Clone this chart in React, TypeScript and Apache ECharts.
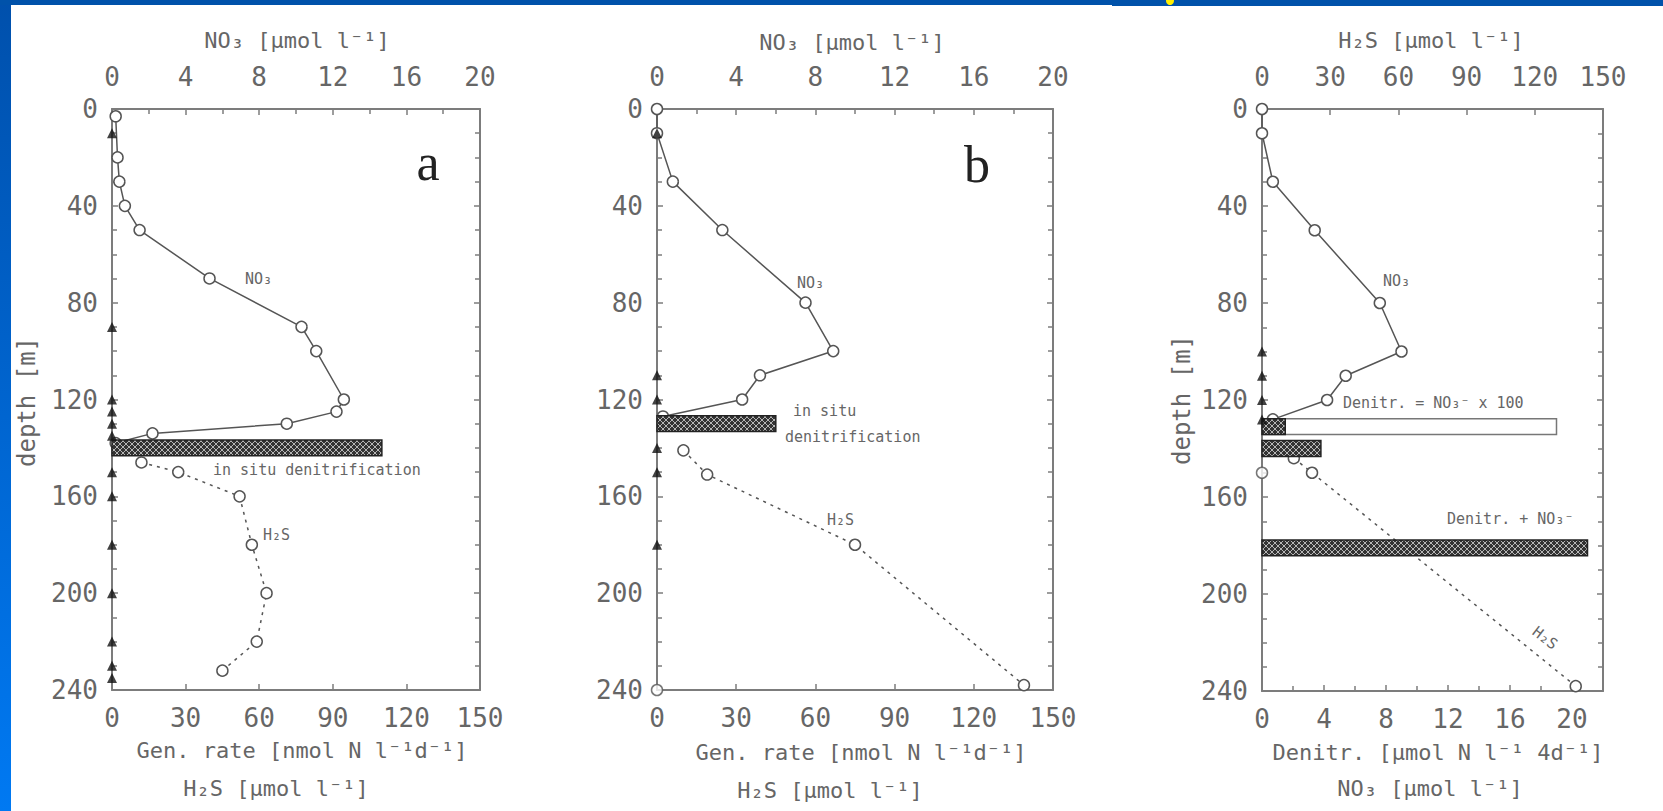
import React, { useEffect, useRef } from 'react';
import * as echarts from 'echarts';

// ---------- Panel a ----------
const NO3_A_DEPTH = [3, 20, 30, 40, 50, 70, 90, 100, 120, 125, 130, 134, 138];
const NO3_A = [0.2, 0.3, 0.4, 0.7, 1.5, 5.3, 10.3, 11.1, 12.6, 12.2, 9.5, 2.2, 0.2];
const H2S_A_DEPTH = [146, 150, 160, 180, 200, 220, 232];
const H2S_A = [12, 27, 52, 57, 63, 59, 45];
const GEN_A_ZERO_DEPTH = [10, 90, 120, 125, 130, 135, 150, 160, 180, 200, 220, 230, 235];
const GEN_A_ZERO = [0, 0, 0, 0, 0, 0, 0, 0, 0, 0, 0, 0, 0];
const GEN_A_BAR_DEPTH = [140];
const GEN_A_BAR = [110];

// ---------- Panel b ----------
const NO3_B_DEPTH = [0, 10, 30, 50, 80, 100, 110, 120, 127];
const NO3_B = [0, 0, 0.8, 3.3, 7.5, 8.9, 5.2, 4.3, 0.3];
const NO3_B_ZERO_DEPTH = [240];
const NO3_B_ZERO = [0];
const H2S_B_DEPTH = [141, 151, 180, 238];
const H2S_B = [10, 19, 75, 139];
const GEN_B_ZERO_DEPTH = [10, 110, 120, 140, 150, 180];
const GEN_B_ZERO = [0, 0, 0, 0, 0, 0];
const GEN_B_BAR_DEPTH = [130];
const GEN_B_BAR = [45];

// ---------- Panel c ----------
const NO3_C_DEPTH = [0, 10, 30, 50, 80, 100, 110, 120, 128];
const NO3_C = [0, 0, 0.7, 3.4, 7.6, 9.0, 5.4, 4.2, 0.7];
const NO3_C_ZERO_DEPTH = [150];
const NO3_C_ZERO = [0];
const H2S_C_DEPTH = [144, 150, 238];
const H2S_C = [14, 22, 138];
const GEN_C_ZERO_DEPTH = [100, 110, 120, 128];
const GEN_C_ZERO = [0, 0, 0, 0];
const DENITR_INSITU_C_DEPTH = [131, 140];
const DENITR_INSITU_C = [1.5, 3.8];
const DENITR_X100_C_DEPTH = [131];
const DENITR_X100_C = [19];
const DENITR_PLUS_C_DEPTH = [181];
const DENITR_PLUS_C = [21];

// axis ranges / tick steps
const DEPTH_MIN = 0, DEPTH_MAX = 240, DEPTH_STEP = 40;
const NO3_MIN = 0, NO3_MAX = 20, NO3_STEP = 4;
const RATE_MIN = 0, RATE_MAX = 150, RATE_STEP = 30;
const DENITR_MIN = 0, DENITR_MAX = 22, DENITR_STEP = 4;

const FONT = '"DejaVu Sans Mono", "Liberation Mono", monospace';
const SERIF = '"Liberation Serif", "DejaVu Serif", serif';
const AXIS_COLOR = '#7c7c7c';
const TEXT_COLOR = '#666';
const LINE_COLOR = '#555';
const BAR_THICK = 6.5;

const zip = (xs: number[], ys: number[]) => xs.map((x, i) => [x, ys[i]]);

export default function App() {
  const ref = useRef<HTMLDivElement>(null);

  useEffect(() => {
    if (!ref.current) return;
    const chart = echarts.init(ref.current, null, { renderer: 'svg' });

    const cv = document.createElement('canvas');
    cv.width = 6;
    cv.height = 6;
    const ctx = cv.getContext('2d')!;
    ctx.fillStyle = '#333';
    ctx.fillRect(0, 0, 6, 6);
    ctx.strokeStyle = '#b5b5b5';
    ctx.lineWidth = 1;
    ctx.beginPath();
    ctx.moveTo(0, 0); ctx.lineTo(6, 6);
    ctx.moveTo(6, 0); ctx.lineTo(0, 6);
    ctx.stroke();
    const hatch: any = { image: cv.toDataURL(), repeat: 'repeat', imageWidth: 6, imageHeight: 6 };

    const xAxis = (grid: number, pos: string, min: number, max: number, interval: number, minor: number, hideMax = false) => ({
      type: 'value', gridIndex: grid, position: pos, min, max, interval,
      axisLine: { show: true, onZero: false, lineStyle: { color: AXIS_COLOR, width: 2 } },
      axisTick: { show: true, inside: true, length: 6, lineStyle: { color: AXIS_COLOR, width: 1.5 } },
      minorTick: { show: minor > 0, splitNumber: minor || 2, length: 5, lineStyle: { color: AXIS_COLOR, width: 1.5 } },
      splitLine: { show: false },
      axisLabel: { margin: pos === 'top' ? 19 : 15, fontFamily: FONT, fontSize: 26, color: TEXT_COLOR, showMaxLabel: !hideMax },
    });
    const yAxis = (grid: number, pos: string, labels: boolean) => ({
      type: 'value', gridIndex: grid, position: pos, inverse: true,
      min: DEPTH_MIN, max: DEPTH_MAX, interval: DEPTH_STEP,
      axisLine: { show: true, onZero: false, lineStyle: { color: AXIS_COLOR, width: 2 } },
      axisTick: { show: true, inside: true, length: 6, lineStyle: { color: AXIS_COLOR, width: 1.5 } },
      minorTick: { show: true, splitNumber: 4, length: 5, lineStyle: { color: AXIS_COLOR, width: 1.5 } },
      splitLine: { show: false },
      axisLabel: { show: labels, margin: 14, fontFamily: FONT, fontSize: 26, color: TEXT_COLOR },
    });

    const lineSeries = (xi: number, yi: number, xs: number[], ds: number[], dashed: boolean) => ({
      type: 'line', xAxisIndex: xi, yAxisIndex: yi, data: zip(xs, ds), clip: false,
      symbol: 'circle', symbolSize: 11, z: 3,
      lineStyle: { color: LINE_COLOR, width: 1.5, type: dashed ? [3, 5] : 'solid' },
      itemStyle: { color: '#fff', borderColor: LINE_COLOR, borderWidth: 1.5 },
    });
    const circles = (xi: number, yi: number, xs: number[], ds: number[]) => ({
      type: 'scatter', xAxisIndex: xi, yAxisIndex: yi, data: zip(xs, ds), clip: false,
      symbol: 'circle', symbolSize: 11, z: 3,
      itemStyle: { color: '#fff', borderColor: LINE_COLOR, borderWidth: 1.5 },
    });
    const triangles = (xi: number, yi: number, xs: number[], ds: number[]) => ({
      type: 'scatter', xAxisIndex: xi, yAxisIndex: yi, data: zip(xs, ds), clip: false,
      symbol: 'triangle', symbolSize: 10, z: 6,
      itemStyle: { color: '#111' },
    });
    const bars = (xi: number, yi: number, xs: number[], ds: number[], fill: any, stroke: string, z: number) => ({
      type: 'custom', xAxisIndex: xi, yAxisIndex: yi, data: zip(xs, ds), clip: false, z,
      renderItem: (params: any, api: any) => {
        const v = api.value(0);
        const d = api.value(1);
        const p0 = api.coord([0, d]);
        const p1 = api.coord([v, d]);
        const h = api.size([0, BAR_THICK])[1];
        return {
          type: 'rect',
          shape: { x: p0[0], y: p0[1] - h / 2, width: p1[0] - p0[0], height: h },
          style: { fill, stroke, lineWidth: 1.5 },
        };
      },
    });

    const t = (text: string, x: number, y: number, size: number, align = 'left', rotation = 0, font = FONT, fill = TEXT_COLOR) => ({
      type: 'text', x, y, rotation, z: 20,
      style: { text, font: `${size}px ${font}`, fill, align, textAlign: align, verticalAlign: 'middle', textVerticalAlign: 'middle' },
    });

    const option: any = {
      animation: false,
      backgroundColor: '#ffffff',
      grid: [
        { left: 112, top: 109, width: 368, height: 581 },
        { left: 657, top: 109, width: 396, height: 581 },
        { left: 1262, top: 109, width: 341, height: 582 },
      ],
      xAxis: [
        xAxis(0, 'top', NO3_MIN, NO3_MAX, NO3_STEP, 2),
        xAxis(0, 'bottom', RATE_MIN, RATE_MAX, RATE_STEP, 0),
        xAxis(1, 'top', NO3_MIN, NO3_MAX, NO3_STEP, 2),
        xAxis(1, 'bottom', RATE_MIN, RATE_MAX, RATE_STEP, 0),
        xAxis(2, 'top', RATE_MIN, RATE_MAX, RATE_STEP, 0),
        xAxis(2, 'bottom', DENITR_MIN, DENITR_MAX, DENITR_STEP, 2, true),
      ],
      yAxis: [
        yAxis(0, 'left', true), yAxis(0, 'right', false),
        yAxis(1, 'left', true), yAxis(1, 'right', false),
        yAxis(2, 'left', true), yAxis(2, 'right', false),
      ],
      series: [
        // a
        lineSeries(0, 0, NO3_A, NO3_A_DEPTH, false),
        lineSeries(1, 0, H2S_A, H2S_A_DEPTH, true),
        bars(1, 0, GEN_A_BAR, GEN_A_BAR_DEPTH, hatch, '#222', 4),
        triangles(1, 0, GEN_A_ZERO, GEN_A_ZERO_DEPTH),
        // b
        lineSeries(2, 2, NO3_B, NO3_B_DEPTH, false),
        circles(2, 2, NO3_B_ZERO, NO3_B_ZERO_DEPTH),
        lineSeries(3, 2, H2S_B, H2S_B_DEPTH, true),
        bars(3, 2, GEN_B_BAR, GEN_B_BAR_DEPTH, hatch, '#222', 4),
        triangles(3, 2, GEN_B_ZERO, GEN_B_ZERO_DEPTH),
        // c
        lineSeries(5, 4, NO3_C, NO3_C_DEPTH, false),
        circles(5, 4, NO3_C_ZERO, NO3_C_ZERO_DEPTH),
        lineSeries(4, 4, H2S_C, H2S_C_DEPTH, true),
        bars(5, 4, DENITR_X100_C, DENITR_X100_C_DEPTH, '#ffffff', '#777', 4),
        bars(5, 4, DENITR_INSITU_C, DENITR_INSITU_C_DEPTH, hatch, '#222', 5),
        bars(5, 4, DENITR_PLUS_C, DENITR_PLUS_C_DEPTH, hatch, '#222', 5),
        triangles(5, 4, GEN_C_ZERO, GEN_C_ZERO_DEPTH),
      ],
      graphic: [
        {
          type: 'rect', z: 30, shape: { x: 0, y: 0, width: 11, height: 811 },
          style: { fill: new echarts.graphic.LinearGradient(0, 0, 0, 1, [
            { offset: 0, color: '#0050ac' }, { offset: 1, color: '#0079f2' },
          ]) },
        },
        { type: 'rect', z: 30, shape: { x: 0, y: 0, width: 1663, height: 5 }, style: { fill: '#0052aa' } },
        { type: 'rect', z: 30, shape: { x: 1112, y: 0, width: 551, height: 6 }, style: { fill: '#0052aa' } },
        { type: 'circle', z: 31, shape: { cx: 1170, cy: 1, r: 4 }, style: { fill: '#ffef00' } },
        // panel a
        t('NO₃ [µmol l⁻¹]', 297, 40, 22, 'center'),
        t('Gen. rate [nmol N l⁻¹d⁻¹]', 302, 750, 22, 'center'),
        t('H₂S [µmol l⁻¹]', 276, 788, 22, 'center'),
        t('depth [m]', 27, 402, 24, 'center', Math.PI / 2),
        t('a', 428, 162, 52, 'center', 0, SERIF, '#222'),
        t('NO₃', 245, 279, 15),
        t('H₂S', 263, 535, 15),
        t('in situ denitrification', 213, 470, 15),
        // panel b
        t('NO₃ [µmol l⁻¹]', 852, 42, 22, 'center'),
        t('Gen. rate [nmol N l⁻¹d⁻¹]', 861, 752, 22, 'center'),
        t('H₂S [µmol l⁻¹]', 830, 790, 22, 'center'),
        t('b', 977, 164, 52, 'center', 0, SERIF, '#222'),
        t('NO₃', 797, 283, 15),
        t('in situ', 793, 411, 15),
        t('denitrification', 785, 437, 15),
        t('H₂S', 827, 520, 15),
        // panel c
        t('H₂S [µmol l⁻¹]', 1431, 40, 22, 'center'),
        t('Denitr. [µmol N l⁻¹ 4d⁻¹]', 1438, 752, 22, 'center'),
        t('NO₃ [µmol l⁻¹]', 1430, 788, 22, 'center'),
        t('depth [m]', 1182, 400, 24, 'center', Math.PI / 2),
        t('NO₃', 1383, 281, 15),
        t('Denitr. = NO₃⁻ x 100', 1343, 403, 15),
        t('Denitr. + NO₃⁻', 1447, 519, 15),
        t('H₂S', 1545, 638, 15, 'center', -0.65),
      ],
    };

    chart.setOption(option);
    return () => chart.dispose();
  }, []);

  return (
    <div
      ref={ref}
      style={{ position: 'absolute', left: 0, top: 0, width: 1663, height: 811, background: '#fff' }}
    />
  );
}
